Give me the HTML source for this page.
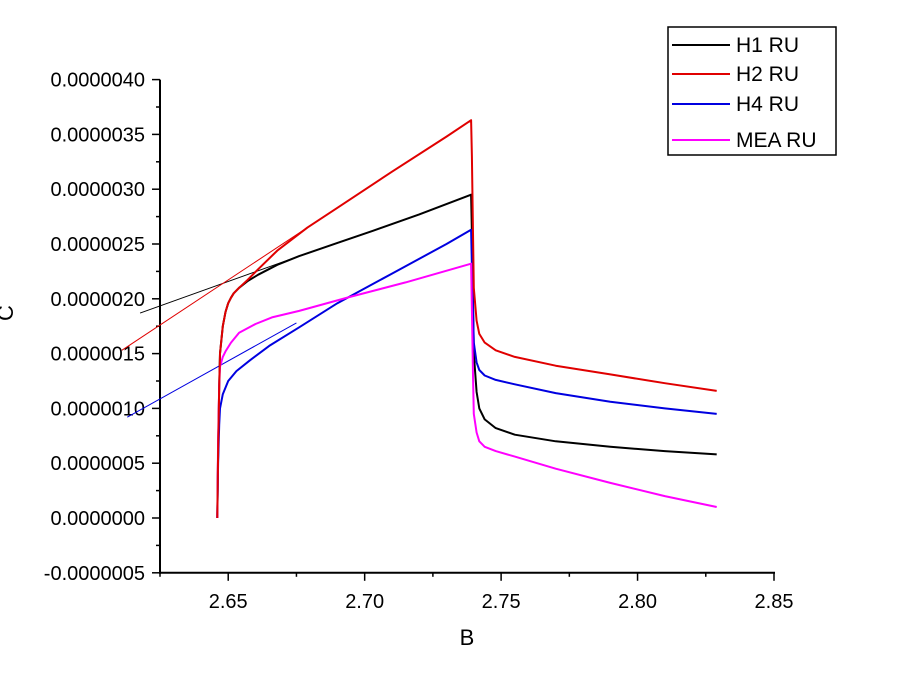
<!DOCTYPE html>
<html><head><meta charset="utf-8"><style>
html,body{margin:0;padding:0;background:#fff;}
svg{display:block;font-family:"Liberation Sans",Arial,sans-serif;}
</style></head><body>
<svg id="chart" width="900" height="688" viewBox="0 0 900 688">
<g id="axes"></g><g id="series"></g><g id="legend"></g>
</svg>
<script>
const xTicks=[2.65,2.70,2.75,2.80,2.85];
const xTickLabels=["2.65","2.70","2.75","2.80","2.85"];
const yTicks=[-0.5,0,0.5,1.0,1.5,2.0,2.5,3.0,3.5,4.0];
const yTickLabels=["-0.0000005","0.0000000","0.0000005","0.0000010","0.0000015","0.0000020","0.0000025","0.0000030","0.0000035","0.0000040"];
const seriesNames=["H1 RU","H2 RU","H4 RU","MEA RU"];
const seriesColors=["#000000","#e00000","#0000e0","#ff00ff"];
const xsH1=[2.646,2.6463,2.6467,2.647,2.648,2.649,2.650,2.651,2.652,2.654,2.657,2.661,2.668,2.676,2.690,2.703,2.720,2.739,2.7393,2.7397,2.740,2.741,2.742,2.744,2.748,2.755,2.770,2.790,2.810,2.829];
const ysH1=[0,0.6,1.2,1.5,1.75,1.88,1.96,2.01,2.05,2.10,2.16,2.22,2.31,2.39,2.51,2.62,2.77,2.95,2.6,2.0,1.5,1.15,1.0,0.9,0.82,0.76,0.70,0.65,0.61,0.58];
const xsH2=[2.646,2.6463,2.6467,2.647,2.648,2.649,2.650,2.651,2.652,2.654,2.657,2.661,2.668,2.679,2.690,2.710,2.730,2.739,2.7393,2.7397,2.740,2.741,2.742,2.744,2.748,2.755,2.770,2.790,2.810,2.829];
const ysH2=[0,0.6,1.2,1.5,1.75,1.88,1.96,2.01,2.05,2.10,2.17,2.27,2.44,2.65,2.83,3.16,3.48,3.63,3.3,2.6,2.1,1.8,1.68,1.6,1.53,1.47,1.39,1.31,1.23,1.16];
const xsH4=[2.646,2.6463,2.6467,2.647,2.648,2.650,2.653,2.658,2.665,2.676,2.690,2.710,2.730,2.739,2.7393,2.7397,2.740,2.741,2.742,2.744,2.748,2.755,2.770,2.790,2.810,2.829];
const ysH4=[0,0.5,0.85,1.0,1.13,1.25,1.34,1.44,1.57,1.74,1.96,2.23,2.50,2.63,2.3,1.9,1.6,1.42,1.35,1.3,1.26,1.22,1.14,1.06,1.0,0.95];
const xsMEA=[2.646,2.6463,2.6467,2.647,2.648,2.649,2.651,2.654,2.660,2.666,2.676,2.695,2.715,2.739,2.7393,2.7397,2.740,2.741,2.742,2.744,2.748,2.755,2.770,2.790,2.810,2.829];
const ysMEA=[0,0.7,1.2,1.38,1.47,1.52,1.6,1.69,1.77,1.83,1.89,2.02,2.15,2.32,1.9,1.3,0.95,0.78,0.7,0.65,0.61,0.56,0.45,0.32,0.2,0.1];
const fitX1=[2.6177,2.676]; const fitYH1=[1.87,2.39];
const fitX2=[2.611,2.679]; const fitYH2=[1.53,2.65];
const fitX4=[2.613,2.675]; const fitYH4=[0.92,1.78];

const NS="http://www.w3.org/2000/svg";
const X0=160,X1=774,XMIN=2.625,XMAX=2.85;
const Y0=518,YPER=109.6;
function sx(v){return X0+(v-XMIN)/(XMAX-XMIN)*(X1-X0);}
function sy(v){return Y0-v*YPER;}
function mk(tag,attrs,parent,text){const e=document.createElementNS(NS,tag);for(const k in attrs)e.setAttribute(k,attrs[k]);if(text!==undefined)e.textContent=text;parent.appendChild(e);return e;}
const axes=document.getElementById('axes'),ser=document.getElementById('series'),leg=document.getElementById('legend');
let e;
e=mk('line',{x1:X0,y1:sy(4.0),x2:X0,y2:sy(-0.5)+1,stroke:'#000','stroke-width':2},axes);


e=mk('line',{x1:X0-1,y1:sy(-0.5),x2:X1+1,y2:sy(-0.5),stroke:'#000','stroke-width':2},axes);


yTicks.forEach((v,i)=>{
  mk('line',{x1:X0-8,y1:sy(v),x2:X0,y2:sy(v),stroke:'#000','stroke-width':1.5},axes);
  if(i<yTicks.length-1)mk('line',{x1:X0-4,y1:sy(v+0.25),x2:X0,y2:sy(v+0.25),stroke:'#000','stroke-width':1.5},axes);
  const t=mk('text',{x:X0-15,y:sy(v)+7,'text-anchor':'end','font-size':20},axes,yTickLabels[i]);
  
  
});
xTicks.forEach((v,i)=>{
  mk('line',{x1:sx(v),y1:sy(-0.5),x2:sx(v),y2:sy(-0.5)+8,stroke:'#000','stroke-width':1.5},axes);
  mk('line',{x1:sx(v-0.025),y1:sy(-0.5),x2:sx(v-0.025),y2:sy(-0.5)+4,stroke:'#000','stroke-width':1.5},axes);
  const t=mk('text',{x:sx(v),y:608,'text-anchor':'middle','font-size':20},axes,xTickLabels[i]);
  
  
});
e=mk('text',{x:467,y:645,'text-anchor':'middle','font-size':22},axes,'B');


e=mk('text',{x:13,y:313,'text-anchor':'middle','font-size':22,transform:'rotate(-90 13 313)'},axes,'C');



function fit(xs,ys,col,name){
  const l=mk('line',{x1:sx(xs[0]),y1:sy(ys[0]),x2:sx(xs[1]),y2:sy(ys[1]),stroke:col,'stroke-width':1},ser);
  
  
}
fit(fitX1,fitYH1,seriesColors[0],'h1-fit-line');
fit(fitX2,fitYH2,seriesColors[1],'h2-fit-line');
fit(fitX4,fitYH4,seriesColors[2],'h4-fit-line');
function line(xs,ys,col,name){
  const d=xs.map((x,i)=>(i?'L':'M')+sx(x).toFixed(1)+','+sy(ys[i]).toFixed(1)).join('');
  const p=mk('path',{d:d,fill:'none',stroke:col,'stroke-width':2,'stroke-linejoin':'round'},ser);
  
  
}
line(xsH1,ysH1,seriesColors[0],'h1-ru-line');
line(xsH4,ysH4,seriesColors[2],'h4-ru-line');
line(xsMEA,ysMEA,seriesColors[3],'mea-ru-line');
line(xsH2,ysH2,seriesColors[1],'h2-ru-line');

e=mk('rect',{x:668,y:27,width:168,height:128,fill:'#fff',stroke:'#000','stroke-width':1.5},leg);


const ly=[45,74,104,140];
seriesNames.forEach((n,i)=>{
  const g=mk('g',{},leg);
  
  
  mk('line',{x1:672,y1:ly[i],x2:730,y2:ly[i],stroke:seriesColors[i],'stroke-width':2},g);
  mk('text',{x:736,y:ly[i]+7,'font-size':21},g,n);
});
</script>
</body></html>
